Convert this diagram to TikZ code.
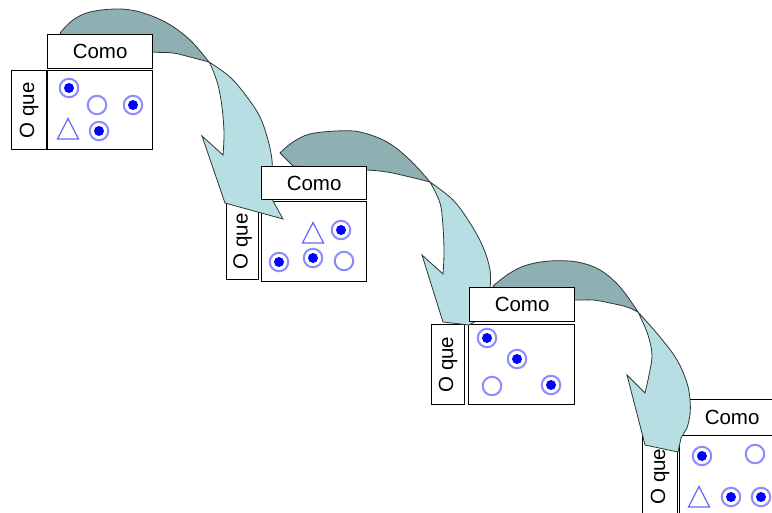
\documentclass[tikz,border=0pt]{standalone}
\usepackage{fontspec}
\setmainfont{Liberation Sans}
\definecolor{darkc}{RGB}{143,176,178}
\definecolor{lightc}{RGB}{183,222,226}
\definecolor{edgec}{RGB}{45,55,55}
\definecolor{ringc}{RGB}{140,140,255}
\definecolor{dotc}{RGB}{0,0,255}
\definecolor{tric}{RGB}{100,100,255}
\begin{document}
\begin{tikzpicture}[x=1pt,y=-1pt,
  box/.style={draw=black, line width=1.2pt, fill=white, inner sep=0pt, anchor=north west},
  lbl/.style={font=\fontsize{20.5}{24}\selectfont, inner sep=0pt},
  ring/.style={circle, draw=ringc, line width=2pt, minimum size=18.5pt, inner sep=0pt},
  fring/.style={ring, path picture={\fill[dotc] (path picture bounding box.center) circle (5pt);}},
  tri/.pic={\draw[tric, line width=1.2pt, line join=miter] (-10.5,10) -- (0,-10.5) -- (10.5,10) -- cycle;},
  darkpart/.style={fill=darkc, draw=edgec, line width=0.8pt, line join=round},
  lightpart/.style={fill=lightc, draw=edgec, line width=0.8pt, line join=miter},
  sm/.style={smooth, tension=0.6}
]
\fill[white] (0,0) rectangle (772,512);
\useasboundingbox (0,0) rectangle (772,512);

% ---- lower boxes (O que + content) ----
\node[box, minimum width=35pt, minimum height=79pt] (oque1) at (11,70) {};
\node[lbl, rotate=90] (oque1t) at (oque1.center) {O que};
\node[box, minimum width=105pt, minimum height=79pt] (cont1) at (47,70) {};

\node[box, minimum width=32pt, minimum height=77pt] (oque2) at (226,202) {};
\node[lbl, rotate=90] (oque2t) at (oque2.center) {O que};
\node[box, minimum width=105pt, minimum height=80pt] (cont2) at (261,201) {};

\node[box, minimum width=33pt, minimum height=80pt] (oque3) at (431,324) {};
\node[lbl, rotate=90] (oque3t) at (oque3.center) {O que};
\node[box, minimum width=106pt, minimum height=80pt] (cont3) at (468,324) {};

\node[box, minimum width=35pt, minimum height=80pt] (oque4) at (642,436) {};
\node[lbl, rotate=90] (oque4t) at (oque4.center) {O que};
\node[box, minimum width=105pt, minimum height=80pt] (cont4) at (679,435) {};
\node[box, lbl, minimum width=105pt, minimum height=36pt] (como4) at (679,399) {Como};

% ---- symbols ----
\node[fring] (s1a) at (69,88) {};
\node[ring]  (s1b) at (97,105) {};
\node[fring] (s1c) at (133,105) {};
\pic (s1d) at (68,129) {tri};
\node[fring] (s1e) at (99,131) {};

\pic (s2a) at (313,233) {tri};
\node[fring] (s2b) at (341,230) {};
\node[fring] (s2c) at (279,262) {};
\node[fring] (s2d) at (313,258) {};
\node[ring]  (s2e) at (344,261) {};

\node[fring] (s3a) at (487,338) {};
\node[fring] (s3b) at (517,359) {};
\node[ring]  (s3c) at (492,386) {};
\node[fring] (s3d) at (551,385) {};

\node[fring] (s4a) at (702,456) {};
\node[ring]  (s4b) at (755,454) {};
\pic (s4c) at (699,497) {tri};
\node[fring] (s4d) at (731,497) {};
\node[fring] (s4e) at (761,497) {};

% ---- arrow 1 ----
\draw[darkpart] (60,33) -- plot[sm] coordinates {(60,33) (73,20) (90,12) (117,9) (140,12) (167,23) (190,40) (209,62)}
  -- plot[sm] coordinates {(209,62) (190,57) (173,53) (153,52) (110,48) (73,45)} -- cycle;
\draw[lightpart] (209,62) -- plot[sm] coordinates {(209,62) (230,77) (247,97) (260,117) (268,140) (272,160) (272,175)}
  -- (272,199) -- (283,219) -- (225,203) -- (202,136) -- (223,155)
  -- plot[sm] coordinates {(223,155) (224,133) (222,107) (218,85) (212,68) (209,62)} -- cycle;

% ---- arrow 2 ----
\draw[darkpart] (280,153) -- plot[sm] coordinates {(280,153) (293,142) (310,134) (337,131) (360,132) (387,142) (410,160) (430,182)}
  -- plot[sm] coordinates {(430,182) (410,177) (387,172) (367,170) (330,168) (293,166)} -- cycle;
\draw[lightpart] (430,182) -- plot[sm] coordinates {(430,182) (453,200) (470,223) (483,247) (490,270) (490,290)}
  -- (482,318) -- (469,325) -- (443,322) -- (422,255) -- (443,274)
  -- plot[sm] coordinates {(443,274) (444,253) (443,227) (440,203) (430,182)} -- cycle;

% ---- arrow 3 ----
\draw[darkpart] (493,286) -- plot[sm] coordinates {(493,286) (510,273) (527,265) (550,261) (577,262) (600,270) (620,287) (638,312)}
  -- plot[sm] coordinates {(638,312) (627,307) (610,303) (593,300) (574,300) (540,298) (505,297)} -- cycle;
\draw[lightpart] (638,312) -- plot[sm] coordinates {(638,312) (660,337) (677,360) (687,383) (690,400) (690,415) (687,428)}
  -- (681,438) -- (678,452) -- (645,445) -- (643,437) -- (627,375) -- (645,393)
  -- plot[sm] coordinates {(645,393) (649,375) (652,355) (648,335) (640,316) (638,312)} -- cycle;

% ---- Como boxes on top ----
\node[box, lbl, minimum width=105pt, minimum height=34pt] (como1) at (47,34) {Como};
\node[box, lbl, minimum width=105pt, minimum height=33pt] (como2) at (261,166) {Como};
\node[box, lbl, minimum width=105pt, minimum height=34pt] (como3) at (469,287) {Como};
\end{tikzpicture}
\end{document}
